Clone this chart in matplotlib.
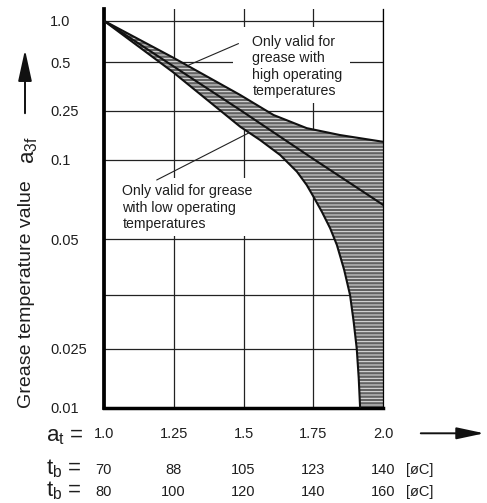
import numpy as np
import matplotlib
matplotlib.use('Agg')
import matplotlib.pyplot as plt
from matplotlib.transforms import blended_transform_factory
from matplotlib.patches import Polygon, Rectangle, FancyArrowPatch

plt.rcParams['font.family'] = ['Liberation Sans', 'DejaVu Sans']
plt.rcParams['mathtext.fontset'] = 'custom'
plt.rcParams['mathtext.rm'] = 'Liberation Sans'
plt.rcParams['mathtext.it'] = 'Liberation Sans'
plt.rcParams['hatch.linewidth'] = 0.7

# ---------------- data ----------------
y_ticks = [0.01, 0.025, 0.035, 0.05, 0.1, 0.25, 0.5, 1.0]
y_tick_labels = ['0.01', '0.025', '', '0.05', '0.1', '0.25', '0.5', '1.0']
x_ticks = [1.0, 1.25, 1.5, 1.75, 2.0]
x_tick_labels = ['1.0', '1.25', '1.5', '1.75', '2.0']
tb_row1 = ['70', '88', '105', '123', '140']
tb_row2 = ['80', '100', '120', '140', '160']

upper_at = [1.0, 1.247, 1.488, 1.607, 1.726, 1.845, 2.0]
upper_a3f = [1.0, 0.542, 0.314, 0.232, 0.181, 0.159, 0.140]

mid_at = [1.0, 1.488, 1.750, 2.0]
mid_a3f = [1.0, 0.2535, 0.1013, 0.0674]

lower_at = [1.0, 1.247, 1.488, 1.559, 1.631, 1.691, 1.726, 1.750, 1.780,
            1.810, 1.834, 1.860, 1.881, 1.894, 1.905, 1.912, 1.917]
lower_a3f = [1.0, 0.4355, 0.186, 0.1449, 0.1092, 0.0901, 0.0802, 0.0725, 0.0636,
             0.0550, 0.0482, 0.0411, 0.035, 0.0296, 0.025, 0.0159, 0.01]

# ---------------- custom (non-uniform) y scale ----------------
SCALE_LOG = np.log10([0.01, 0.025, 0.035, 0.05, 0.1, 0.25, 0.5, 1.0, 10 ** 0.5])
SCALE_POS = np.array([0, 59, 112.7, 168.4, 248, 296.7, 345.4, 387, 387 + 0.5 / 0.30103 * 41.6])


def fwd(v):
    v = np.asarray(v, dtype=float)
    return np.interp(np.log10(np.clip(v, 1e-9, None)), SCALE_LOG, SCALE_POS)


def inv(p):
    return 10 ** np.interp(np.asarray(p, dtype=float), SCALE_POS, SCALE_LOG)


W, H = 487, 503
fig = plt.figure(figsize=(W / 100, H / 100), dpi=100)


def fx(px):
    return px / W


def fy(py):
    return 1 - py / H


ax = fig.add_axes([fx(103.8), fy(407.7), fx(383.3) - fx(103.8), fy(9.3) - fy(407.7)])
ax.set_yscale('function', functions=(fwd, inv))
ax.set_xlim(1.0, 2.0)
ax.set_ylim(0.01, 1.209)

# grid
ax.set_yticks(y_ticks)
ax.set_yticklabels(y_tick_labels)
ax.set_xticks(x_ticks)
ax.set_xticklabels([])
ax.yaxis.set_minor_locator(matplotlib.ticker.NullLocator())
ax.tick_params(axis='y', length=0, pad=38.5, labelsize=10.5, labelcolor='#1e1e1e')
for lab in ax.get_yticklabels():
    lab.set_horizontalalignment('left')
ax.tick_params(axis='x', length=0)
ax.grid(True, color='#222222', lw=0.9)
ax.set_axisbelow(True)
ax.spines['top'].set_visible(False)
ax.spines['right'].set_linewidth(0.9)
ax.spines['left'].set_linewidth(2.7)
ax.spines['bottom'].set_linewidth(2.5)

# white areas behind the two notes (they break the grid lines)
ax.add_patch(Rectangle((fx(233), fy(103)), fx(350) - fx(233), fy(27) - fy(103),
                       transform=fig.transFigure, facecolor='white', edgecolor='none',
                       zorder=1))
ax.add_patch(Rectangle((fx(118), fy(236)), fx(256) - fx(118), fy(178) - fy(236),
                       transform=fig.transFigure, facecolor='white', edgecolor='none',
                       zorder=1))

# band polygon
poly_x = upper_at + [2.0] + lower_at[::-1]
poly_y = upper_a3f + [0.01] + lower_a3f[::-1]
verts = np.column_stack([poly_x, poly_y])
ax.add_patch(Polygon(verts, closed=True, facecolor='#626262', edgecolor='none', zorder=2))
ax.add_patch(Polygon(verts, closed=True, facecolor='none', edgecolor='#e8e8e8',
                     hatch='-----', lw=0, zorder=2.1))

ax.plot(upper_at, upper_a3f, color='#111111', lw=1.5, zorder=3)
ax.plot(lower_at, lower_a3f, color='#111111', lw=1.5, zorder=3)
ax.plot(mid_at, mid_a3f, color='#111111', lw=1.5, zorder=3)

# annotations
fig.text(fx(252.5), fy(95.5), 'Only valid for\ngrease with\nhigh operating\ntemperatures',
         fontsize=10.2, color='#1e1e1e', ha='left', va='baseline', linespacing=1.24)
fig.text(fx(122.3), fy(228.3), 'Only valid for grease\nwith low operating\ntemperatures',
         fontsize=10.2, color='#1e1e1e', ha='left', va='baseline', linespacing=1.22)
ax.annotate('', xy=(1.303, 0.48), xycoords='data',
            xytext=(fx(238.5), fy(43.6)), textcoords='figure fraction',
            arrowprops=dict(arrowstyle='-', lw=0.8, color='#222222', shrinkA=0, shrinkB=0))
ax.annotate('', xy=(1.52, 0.166), xycoords='data',
            xytext=(fx(156.7), fy(180)), textcoords='figure fraction',
            arrowprops=dict(arrowstyle='-', lw=0.8, color='#222222', shrinkA=0, shrinkB=0))

# bottom rows
trans = blended_transform_factory(ax.transData, fig.transFigure)
for xv, lab in zip(x_ticks, x_tick_labels):
    ax.text(xv, fy(438.3), lab, transform=trans, ha='center', va='baseline', fontsize=10.5,
            color='#1e1e1e')
for xv, lab in zip(x_ticks, tb_row1):
    ax.text(xv, fy(474), lab, transform=trans, ha='center', va='baseline', fontsize=10.5,
            color='#1e1e1e')
for xv, lab in zip(x_ticks, tb_row2):
    ax.text(xv, fy(496), lab, transform=trans, ha='center', va='baseline', fontsize=10.5,
            color='#1e1e1e')
fig.text(fx(406), fy(474), '[øC]', ha='left', va='baseline', fontsize=10.5, color='#1e1e1e')
fig.text(fx(406), fy(496), '[øC]', ha='left', va='baseline', fontsize=10.5, color='#1e1e1e')

fig.text(fx(46), fy(441.7), r'a$_{\mathrm{t}}$ =', ha='left', va='baseline', fontsize=16,
         color='#1e1e1e')
fig.text(fx(46), fy(474), r't$_{\mathrm{b}}$ =', ha='left', va='baseline', fontsize=16,
         color='#1e1e1e')
fig.text(fx(46), fy(496), r't$_{\mathrm{b}}$ =', ha='left', va='baseline', fontsize=16,
         color='#1e1e1e')

# y-axis label
fig.text(fx(27), fy(294), 'Grease temperature value', rotation=90, ha='center', va='center',
         fontsize=14, color='#1e1e1e')
fig.text(fx(29), fy(150), r'a$_{\mathrm{3f}}$', rotation=90, ha='center', va='center',
         fontsize=16, color='#1e1e1e')

# arrows
fig.add_artist(FancyArrowPatch(
    (fx(25), fy(116)), (fx(25), fy(47)), transform=fig.transFigure,
    arrowstyle='-|>,head_length=1.6,head_width=0.35', mutation_scale=12, lw=1.4, color='#111111'))
fig.add_artist(FancyArrowPatch(
    (fx(418), fy(433.3)), (fx(487), fy(433.3)), transform=fig.transFigure,
    arrowstyle='-|>,head_length=1.4,head_width=0.3', mutation_scale=12, lw=1.4, color='#111111'))

fig.savefig('out.png', dpi=100)
